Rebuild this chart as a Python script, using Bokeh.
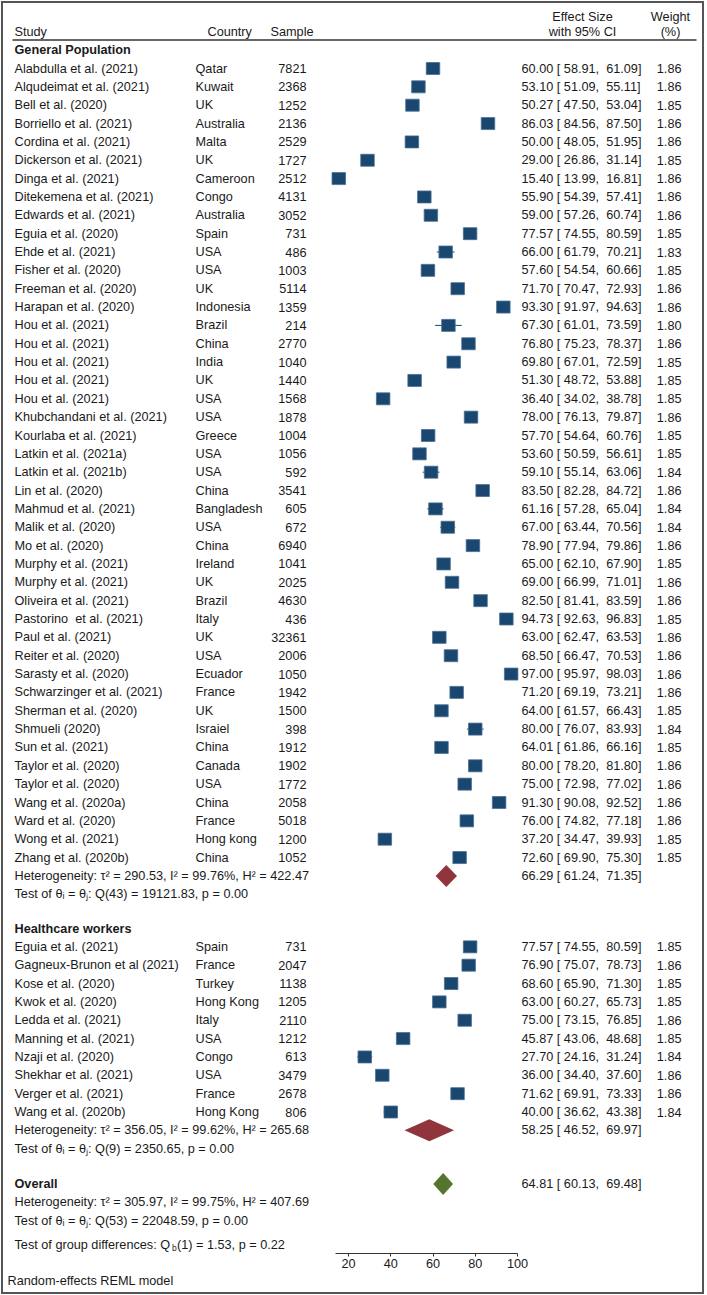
from bokeh.plotting import figure
from bokeh.models import (ColumnDataSource, Range1d, LinearAxis, FixedTicker, Title,
                          InlineStyleSheet)
from bokeh.core.properties import value
from bokeh.embed import file_html
from bokeh.resources import INLINE

# ---------------- data ----------------
gp_study = ["Alabdulla et al. (2021)", "Alqudeimat et al. (2021)", "Bell et al. (2020)",
            "Borriello et al. (2021)", "Cordina et al. (2021)", "Dickerson et al. (2021)",
            "Dinga et al. (2021)", "Ditekemena et al. (2021)", "Edwards et al. (2021)",
            "Eguia et al. (2020)", "Ehde et al. (2021)", "Fisher et al. (2020)",
            "Freeman et al. (2020)", "Harapan et al. (2020)", "Hou et al. (2021)",
            "Hou et al. (2021)", "Hou et al. (2021)", "Hou et al. (2021)", "Hou et al. (2021)",
            "Khubchandani et al. (2021)", "Kourlaba et al. (2021)", "Latkin et al. (2021a)",
            "Latkin et al. (2021b)", "Lin et al. (2020)", "Mahmud et al. (2021)",
            "Malik et al. (2020)", "Mo et al. (2020)", "Murphy et al. (2021)",
            "Murphy et al. (2021)", "Oliveira et al. (2021)", "Pastorino  et al. (2021)",
            "Paul et al. (2021)", "Reiter et al. (2020)", "Sarasty et al. (2020)",
            "Schwarzinger et al. (2021)", "Sherman et al. (2020)", "Shmueli (2020)",
            "Sun et al. (2021)", "Taylor et al. (2020)", "Taylor et al. (2020)",
            "Wang et al. (2020a)", "Ward et al. (2020)", "Wong et al. (2021)",
            "Zhang et al. (2020b)"]
gp_country = ["Qatar", "Kuwait", "UK", "Australia", "Malta", "UK", "Cameroon", "Congo",
              "Australia", "Spain", "USA", "USA", "UK", "Indonesia", "Brazil", "China",
              "India", "UK", "USA", "USA", "Greece", "USA", "USA", "China", "Bangladesh",
              "USA", "China", "Ireland", "UK", "Brazil", "Italy", "UK", "USA", "Ecuador",
              "France", "UK", "Israiel", "China", "Canada", "USA", "China", "France",
              "Hong kong", "China"]
gp_sample = [7821, 2368, 1252, 2136, 2529, 1727, 2512, 4131, 3052, 731, 486, 1003, 5114,
             1359, 214, 2770, 1040, 1440, 1568, 1878, 1004, 1056, 592, 3541, 605, 672,
             6940, 1041, 2025, 4630, 436, 32361, 2006, 1050, 1942, 1500, 398, 1912, 1902,
             1772, 2058, 5018, 1200, 1052]
gp_es = [60.00, 53.10, 50.27, 86.03, 50.00, 29.00, 15.40, 55.90, 59.00, 77.57, 66.00,
         57.60, 71.70, 93.30, 67.30, 76.80, 69.80, 51.30, 36.40, 78.00, 57.70, 53.60,
         59.10, 83.50, 61.16, 67.00, 78.90, 65.00, 69.00, 82.50, 94.73, 63.00, 68.50,
         97.00, 71.20, 64.00, 80.00, 64.01, 80.00, 75.00, 91.30, 76.00, 37.20, 72.60]
gp_lo = [58.91, 51.09, 47.50, 84.56, 48.05, 26.86, 13.99, 54.39, 57.26, 74.55, 61.79,
         54.54, 70.47, 91.97, 61.01, 75.23, 67.01, 48.72, 34.02, 76.13, 54.64, 50.59,
         55.14, 82.28, 57.28, 63.44, 77.94, 62.10, 66.99, 81.41, 92.63, 62.47, 66.47,
         95.97, 69.19, 61.57, 76.07, 61.86, 78.20, 72.98, 90.08, 74.82, 34.47, 69.90]
gp_hi = [61.09, 55.11, 53.04, 87.50, 51.95, 31.14, 16.81, 57.41, 60.74, 80.59, 70.21,
         60.66, 72.93, 94.63, 73.59, 78.37, 72.59, 53.88, 38.78, 79.87, 60.76, 56.61,
         63.06, 84.72, 65.04, 70.56, 79.86, 67.90, 71.01, 83.59, 96.83, 63.53, 70.53,
         98.03, 73.21, 66.43, 83.93, 66.16, 81.80, 77.02, 92.52, 77.18, 39.93, 75.30]
gp_weight = [1.86, 1.86, 1.85, 1.86, 1.86, 1.85, 1.86, 1.86, 1.86, 1.85, 1.83, 1.85, 1.86,
             1.86, 1.80, 1.86, 1.85, 1.85, 1.85, 1.86, 1.85, 1.85, 1.84, 1.86, 1.84, 1.84,
             1.86, 1.85, 1.86, 1.86, 1.85, 1.86, 1.86, 1.86, 1.86, 1.85, 1.84, 1.85, 1.86,
             1.86, 1.86, 1.86, 1.85, 1.85]

hcw_study = ["Eguia et al. (2021)", "Gagneux-Brunon et al (2021)", "Kose et al. (2020)",
             "Kwok et al. (2020)", "Ledda et al. (2021)", "Manning et al. (2021)",
             "Nzaji et al. (2020)", "Shekhar et al. (2021)", "Verger et al. (2021)",
             "Wang et al. (2020b)"]
hcw_country = ["Spain", "France", "Turkey", "Hong Kong", "Italy", "USA", "Congo", "USA",
               "France", "Hong Kong"]
hcw_sample = [731, 2047, 1138, 1205, 2110, 1212, 613, 3479, 2678, 806]
hcw_es = [77.57, 76.90, 68.60, 63.00, 75.00, 45.87, 27.70, 36.00, 71.62, 40.00]
hcw_lo = [74.55, 75.07, 65.90, 60.27, 73.15, 43.06, 24.16, 34.40, 69.91, 36.62]
hcw_hi = [80.59, 78.73, 71.30, 65.73, 76.85, 48.68, 31.24, 37.60, 73.33, 43.38]
hcw_weight = [1.85, 1.86, 1.85, 1.85, 1.86, 1.85, 1.84, 1.86, 1.86, 1.84]

group_names = ["General Population", "Healthcare workers", "Overall"]
pooled_es = [66.29, 58.25, 64.81]
pooled_lo = [61.24, 46.52, 60.13]
pooled_hi = [71.35, 69.97, 69.48]
het_tau2 = [290.53, 356.05, 305.97]
het_i2 = [99.76, 99.62, 99.75]
het_h2 = [422.47, 265.68, 407.69]
q_df = [43, 9, 53]
q_stat = [19121.83, 2350.65, 22048.59]
q_p = [0.00, 0.00, 0.00]
qb_df, qb_stat, qb_p = 1, 1.53, 0.22
x_ticks = [20, 40, 60, 80, 100]

# ---------------- layout ----------------
W, H = 707, 1295
PX0, V0, SCALE = 348.0, 20.0, 2.1125     # screen px of value 20, px per unit
ROW0, ROWH = 68.0, 18.35                  # screen px of first study row, row height
FRAME_BOTTOM = 1253

def vx(px):
    return V0 + (px - PX0) / SCALE

def ry(py):
    return (py - ROW0) / ROWH

NAVY, MAROON, GREEN = "#1a476f", "#90353b", "#55752f"
TXT = "#1a1a1a"
FONT = value("Liberation Sans")
FSPX = 12.7
FS = value(f"{FSPX}px")
NB = "\u00a0"

p = figure(width=W, height=H, output_backend="svg", toolbar_location=None,
           x_range=Range1d(vx(0), vx(W)),
           y_range=Range1d(ry(FRAME_BOTTOM), ry(0)),
           x_axis_type=None, y_axis_type=None,
           min_border_left=0, min_border_right=0, min_border_top=0,
           min_border_bottom=H - FRAME_BOTTOM)
p.outline_line_color = None
p.background_fill_color = "white"
p.border_fill_color = "white"
p.stylesheets = [InlineStyleSheet(css=(
    ":host { position: relative; }"
    ":host::after { content: ''; position: absolute; left: 1px; top: 1px; "
    "width: 703px; height: 1293px; border: 2px solid #555555; box-sizing: border-box; "
    "pointer-events: none; z-index: 100; }"))]

# row positions
gp_hdr = -1.0
gp_rows = [float(i) for i in range(len(gp_study))]
gp_sum = len(gp_study)
hcw_hdr = ry(928)
hcw_rows = [hcw_hdr + 1 + i for i in range(len(hcw_study))]
hcw_sum = hcw_hdr + 1 + len(hcw_study)
ov_row = ry(1183.5)
sum_rows = [gp_sum, hcw_sum, ov_row]
hdr_rows = [gp_hdr, hcw_hdr, ov_row]
qb_row = ov_row + 3.3

def add_text(xs, ys, texts, align="left", bold=False, size=FS):
    src = ColumnDataSource(dict(x=xs, y=ys, t=texts))
    p.text(x="x", y="y", text="t", source=src, text_font=FONT, text_font_size=size,
           text_align=align, text_baseline="middle", text_color=TXT,
           text_font_style="bold" if bold else "normal")

# column headers
add_text([vx(14), vx(207), vx(270)], [ry(31.5)] * 3, ["Study", "Country", "Sample"])
add_text([vx(582), vx(670)], [ry(16)] * 2, ["Effect Size", "Weight"], align="center")
add_text([vx(582), vx(670)], [ry(31.5)] * 2, ["with 95% CI", "(%)"], align="center")
p.segment(x0=[vx(12)], y0=[ry(39.5)], x1=[vx(696)], y1=[ry(39.5)], line_color="#333333",
          line_width=1.5)

# group headers
add_text([vx(14)] * 3, hdr_rows, group_names, bold=True)

# study rows
all_rows = gp_rows + hcw_rows
all_study = [s.replace("  ", " " + NB) for s in gp_study + hcw_study]
all_country = gp_country + hcw_country
all_sample = gp_sample + hcw_sample
all_es = gp_es + hcw_es
all_lo = gp_lo + hcw_lo
all_hi = gp_hi + hcw_hi
all_w = gp_weight + hcw_weight

def fmt_es(e, l, h):
    return f"{e:.2f} [{l:6.2f}, {h:6.2f}]".replace(" ", NB)

add_text([vx(14)] * len(all_rows), all_rows, all_study)
add_text([vx(195)] * len(all_rows), all_rows, all_country)
add_text([vx(306)] * len(all_rows), all_rows, [str(s) for s in all_sample], align="right")
add_text([vx(521)] * len(all_rows), all_rows,
         [fmt_es(e, l, h) for e, l, h in zip(all_es, all_lo, all_hi)])
add_text([vx(681)] * len(all_rows), all_rows, [f"{w:.2f}" for w in all_w], align="right")

# CIs and squares
study_src = ColumnDataSource(dict(y=all_rows, es=all_es, lo=all_lo, hi=all_hi))
p.segment(x0="lo", y0="y", x1="hi", y1="y", source=study_src, line_color=NAVY, line_width=1)
p.rect(x="es", y="y", width=13.5, height=12, width_units="screen", height_units="screen",
       source=study_src, fill_color=NAVY, line_color="#4a6f92", line_width=0.8)

# pooled diamonds
DH = 0.6
dia_x = [[l, e, h, e] for e, l, h in zip(pooled_es, pooled_lo, pooled_hi)]
dia_y = [[r, r - DH, r, r + DH] for r in sum_rows]
p.patches(xs=dia_x, ys=dia_y, fill_color=[MAROON, MAROON, GREEN], line_color=None)
add_text([vx(521)] * 3, sum_rows,
         [fmt_es(e, l, h) for e, l, h in zip(pooled_es, pooled_lo, pooled_hi)])

# heterogeneity lines
het_rows = [gp_sum, hcw_sum, ov_row + 1]
test_rows = [gp_sum + 1, hcw_sum + 1, ov_row + 2]
add_text([vx(14)] * 3, het_rows,
         [f"Heterogeneity: \u03c4\u00b2 = {t:.2f}, I\u00b2 = {i:.2f}%, H\u00b2 = {h:.2f}"
          for t, i, h in zip(het_tau2, het_i2, het_h2)])
add_text([vx(14)] * 3, test_rows,
         [f"Test of \u03b8\u1d62 = \u03b8\u2c7c: Q({d}) = {q:.2f}, p = {pp:.2f}"
          for d, q, pp in zip(q_df, q_stat, q_p)])

# group differences with subscript b
qb_main = "Test of group differences: Q"
qb_w = 12.395 * FSPX   # text width in px (Arial metrics)
add_text([vx(14)], [qb_row], [qb_main])
add_text([vx(14 + qb_w)], [qb_row + 0.17], ["b"], size=value("8.5px"))
add_text([vx(14 + qb_w + 5)], [qb_row], [f"({qb_df}) = {qb_stat:.2f}, p = {qb_p:.2f}"])

# x axis
ax = LinearAxis(ticker=FixedTicker(ticks=x_ticks), bounds=(14, 100))
ax.axis_line_color = "#333333"
ax.major_tick_line_color = "#333333"
ax.major_tick_out = 3
ax.major_tick_in = 0
ax.minor_tick_line_color = None
ax.major_label_standoff = 2
ax.major_label_text_font = "Liberation Sans"
ax.major_label_text_font_size = f"{FSPX}px"
ax.major_label_text_color = TXT
p.add_layout(ax, "below")

note = Title(text="Random-effects REML model", align="left", offset=7, standoff=2,
             text_font="Liberation Sans", text_font_size=f"{FSPX}px",
             text_font_style="normal", text_color=TXT)
p.add_layout(note, "below")

open("out.html", "w").write(file_html(p, INLINE))
